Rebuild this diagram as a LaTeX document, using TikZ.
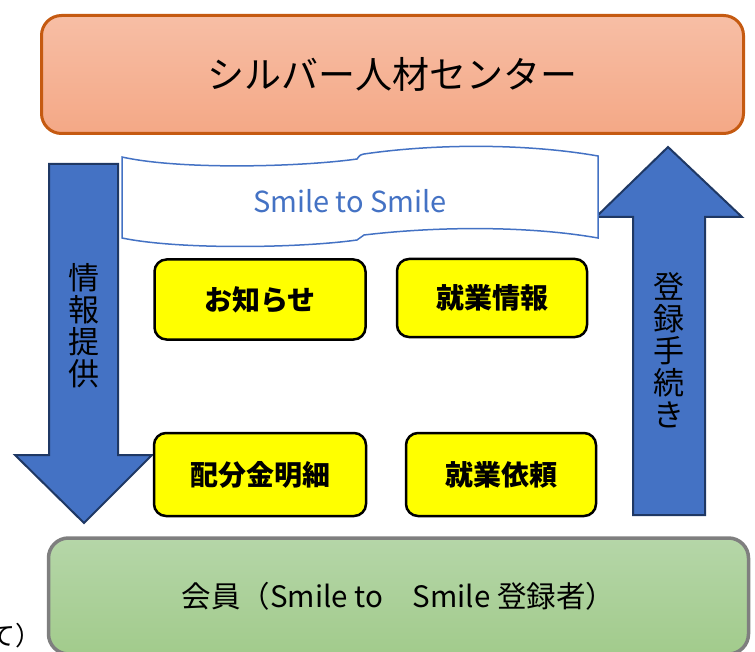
\documentclass[tikz,border=0pt]{standalone}
\usepackage{fontspec}
\setmainfont{Noto Sans CJK JP}
\definecolor{orgborder}{HTML}{C55A11}
\definecolor{orgtop}{HTML}{F7BEA5}
\definecolor{orgbot}{HTML}{F4A886}
\definecolor{grnborder}{HTML}{7F7F7F}
\definecolor{grntop}{HTML}{B5D6A8}
\definecolor{grnbot}{HTML}{A2CB8C}
\definecolor{arrfill}{HTML}{4472C4}
\definecolor{arrborder}{HTML}{1F3864}
\definecolor{bannerblue}{HTML}{4472C4}
\definecolor{yel}{HTML}{FFFF00}
\begin{document}
\begin{tikzpicture}[x=1pt,y=-1pt,
  topbox/.style={draw=orgborder,line width=3pt,rounded corners=20pt,
    top color=orgtop,bottom color=orgbot,inner sep=0pt,
    font=\fontsize{37}{37}\selectfont},
  botbox/.style={draw=grnborder,line width=3.5pt,rounded corners=20pt,
    top color=grntop,bottom color=grnbot,inner sep=0pt,
    font=\fontsize{29.5}{29.5}\selectfont},
  itembox/.style={draw=black,line width=2.5pt,fill=yel,rounded corners=12pt,
    inner sep=0pt,font=\fontsize{28}{28}\selectfont\bfseries},
  bigarrow/.style={fill=arrfill,draw=arrborder,line width=2pt,line join=miter},
  vlabel/.style={align=center,inner sep=0pt,font=\fontsize{31}{32}\selectfont},
  banner/.style={draw=bannerblue,line width=1.5pt,fill=white}
]
\useasboundingbox (0,0) rectangle (755,652);

% top box
\node[topbox,minimum width=702pt,minimum height=118pt] (center) at (392.5,74.5) {シルバー人材センター};

% arrows
\draw[bigarrow] (49,164) -- (118,164) -- (118,455) -- (152,455) -- (84,523) -- (15,455) -- (49,455) -- cycle;
\draw[bigarrow] (633,515) -- (633,217) -- (596,217) -- (668,147) -- (742,217) -- (705,217) -- (705,515) -- cycle;
\node[vlabel] (info) at (84,326) {情\\報\\提\\供};
\node[vlabel] (reg) at (669,350) {登\\録\\手\\続\\き};

% banner
\draw[banner] (122,157) .. controls (180,170) and (300,167) .. (357,159)
  .. controls (360,155) .. (364,154)
  .. controls (440,143) and (530,144) .. (598,156)
  -- (598,238)
  .. controls (530,226) and (440,226) .. (364,235)
  .. controls (360,238) .. (357,240)
  .. controls (300,248) and (180,250) .. (122,238) -- cycle;
\node[text=bannerblue,inner sep=0pt,font=\fontsize{29}{29}\selectfont] (smile) at (350,201) {Smile to Smile};

% items
\node[itembox,minimum width=211pt,minimum height=80pt] (news) at (260,299.5) {お知らせ};
\node[itembox,minimum width=190pt,minimum height=78pt] (jobinfo) at (492,298) {就業情報};
\node[itembox,minimum width=212pt,minimum height=83pt] (pay) at (260,474.5) {配分金明細};
\node[itembox,minimum width=190pt,minimum height=83pt] (jobreq) at (501,474.5) {就業依頼};

% bottom box
\node[botbox,minimum width=700pt,minimum height=116pt] (member) at (398.5,596) {会員（Smile to　Smile 登録者）};

% text cut off at the left edge, as in the reference
\node[anchor=east,inner sep=0pt,font=\fontsize{26}{26}\selectfont] (cut) at (42,636) {て）};
\end{tikzpicture}
\end{document}
